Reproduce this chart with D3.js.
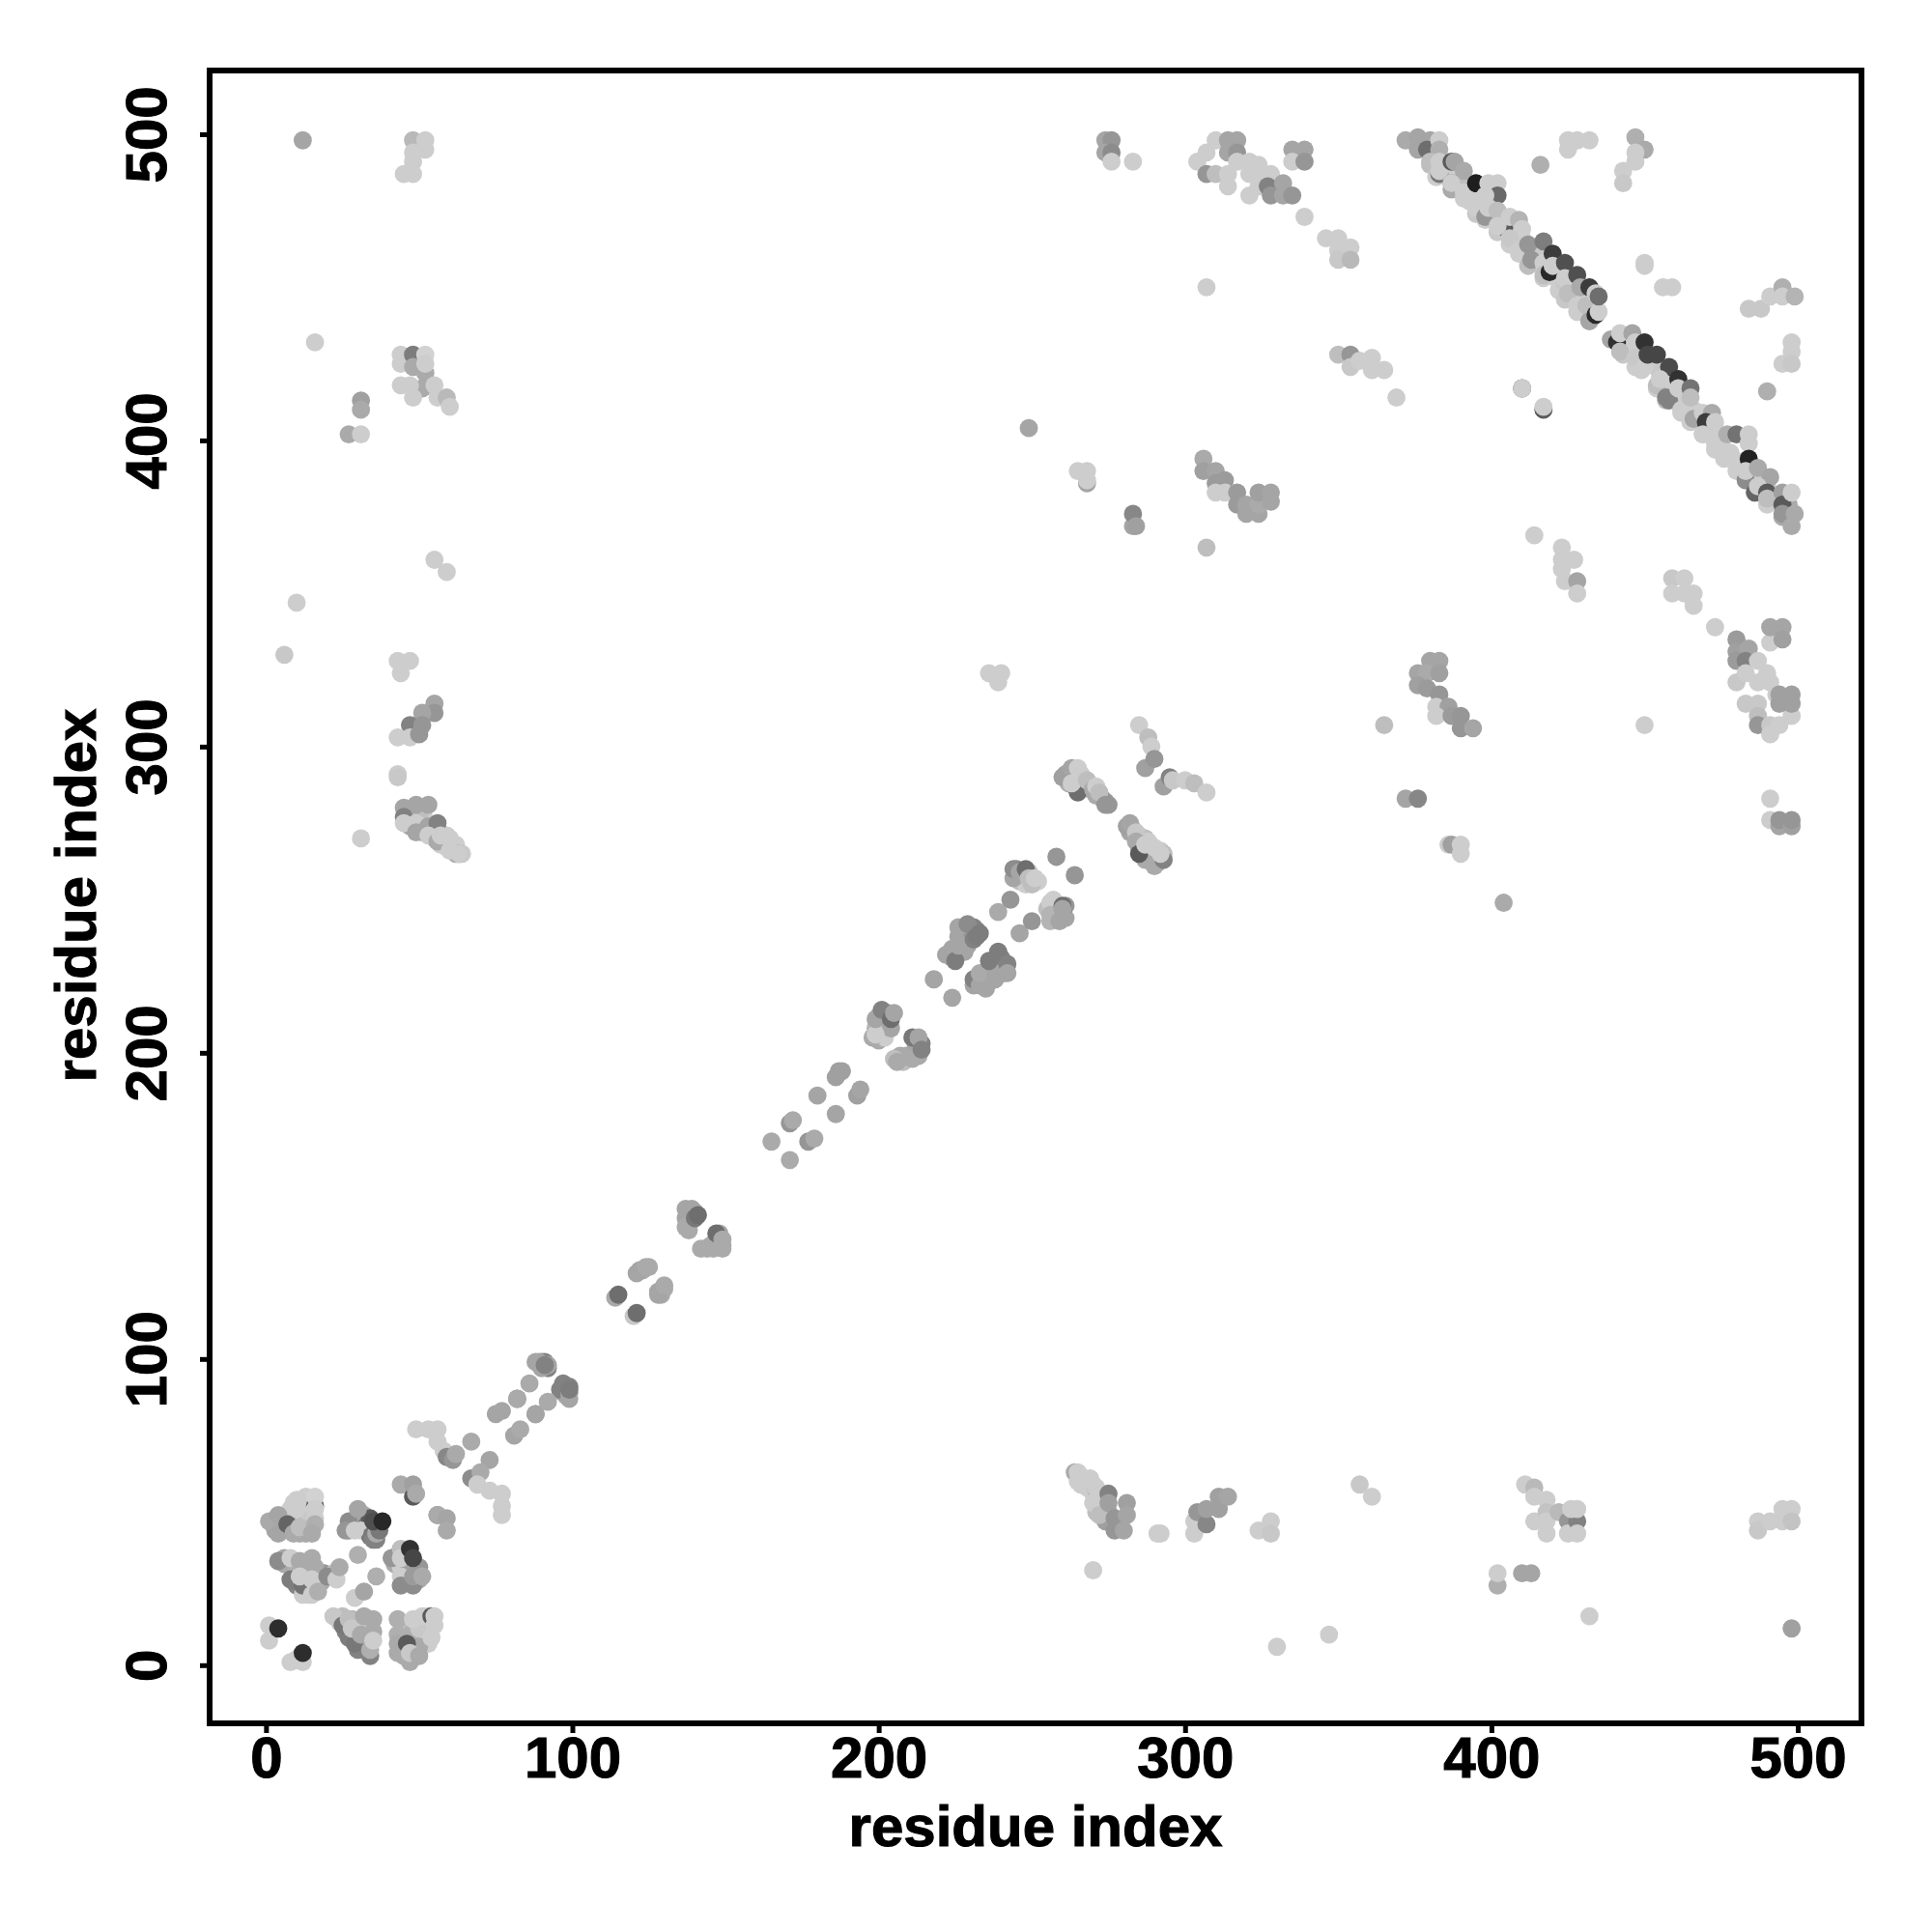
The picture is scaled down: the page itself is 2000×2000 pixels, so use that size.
<!DOCTYPE html>
<html><head><meta charset="utf-8">
<script src="https://cdnjs.cloudflare.com/ajax/libs/d3/7.8.5/d3.min.js"></script>
<style>html,body{margin:0;background:#fff}svg{display:block}text{font-family:"Liberation Sans",Arial,sans-serif;font-weight:700;fill:#000;stroke:#000;stroke-width:1.1px}</style>
</head><body><div id="chart"></div>
<script>
// Each row: [residue i, residue j, grey level]
const xTicks = [0,100,200,300,400,500];
const yTicks = [0,100,200,300,400,500];
const xTitle = "residue index", yTitle = "residue index";

const originFill = [
[45,13,175],[45,5,170],[47,13,190],[47,10,205],[50,9,205],[52,11,205],[52,14,200],[53,7,205],[49,6,175],[45,3,170],[50,15,200],[53,16,205],[48,11,175],[50,6,170],
[26,11,130],[29,13,205],[30,9,170],[32,8,140],[33,13,180],[34,11,170],[33,6,120],[28,15,175],[25,16,190],[31,14,200],[30,5,130],[27,9,125],[24,14,205],
[6,33,170],[10,31,175],[13,31,170],[14,28,200],[13,25,205],[16,26,190],[18,27,170],[6,35,165],[14,23,205],[19,30,150],[22,30,190],[10,26,130],[12,23,205],
[3,46,170],[6,44,170],[6,48,170],[8,51,205],[10,48,190],[12,50,205],[13,46,170],[11,43,170],[14,53,205],[14,49,200],[12,53,205],[13,43,170],[3,44,165],[10,51,205],
[28,45,140],[32,49,170],[33,46,120],[35,44,130],[37,46,150],[34,48,90],[31,44,205],[36,41,130],[34,42,120],[27,44,150],
[42,33,170],[46,33,190],[44,32,205],[46,30,160],[46,37,190],[50,32,150],[50,28,170],[46,27,140],[43,36,175]
];
const diagonalFill = [
[261,291,165],[262,290,190],[263,291,205],[264,289,205],[265,290,190],[266,288,205],[266,291,205],[267,287,170],[268,288,205],[269,286,190],[270,287,190],[271,284,170],[272,285,205],[273,283,170],[274,282,150],[262,288,175],[264,287,150],
[282,272,165],[283,273,190],[284,270,170],[285,271,205],[286,268,165],[287,270,190],[288,265,175],[288,269,205],[289,264,170],[290,266,205],[291,263,190],[291,262,165],[292,266,205],[293,265,190],[287,263,170],[285,267,150],
[224,234,165],[226,238,165],[227,240,165],[228,237,165],[230,240,150],[229,235,165],[223,232,165],[225,233,165],[228,233,165],[232,240,130],[224,231,165],[231,241,130],
[234,224,165],[236,223,165],[235,226,165],[237,228,130],[239,228,165],[241,226,165],[240,231,130],[233,224,165],[238,224,165],[231,222,165],[235,221,165],
[245,258,165],[246,256,190],[247,258,150],[248,255,205],[245,260,140],[249,259,190],[252,256,205],[250,255,190],
[257,247,205],[256,243,180],[258,245,170],[257,250,205],[261,244,165],[261,248,150],[258,248,190],[255,247,190],
[199,208,180],[200,204,170],[200,212,165],[202,210,165],[201,207,190],[203,213,150],[202,205,205],[204,208,165],
[208,197,190],[209,199,170],[212,200,170],[207,199,170],[212,203,165],[214,203,130],[213,199,170],
[137,146,165],[138,147,165],[138,144,170],[139,149,165],[140,148,165],[138,142,170],
[144,136,170],[146,136,170],[147,137,170],[147,139,120],[149,137,170],[148,141,165],
[122,129,165],[123,129,170],[125,130,170],[128,122,165],[130,123,170],[129,121,170],
[88,99,165],[90,99,130],[91,99,130],[92,97,130],[90,97,165],[97,89,165],[99,91,130],[98,88,165],[96,90,130],[99,87,165]
];
const bandFill = [
[47,278,130],[48,276,205],[50,274,205],[51,272,165],[52,276,205],[54,272,205],[55,270,205],[56,273,180],[57,268,205],[58,270,205],[59,267,205],[61,266,205],[62,268,205],[59,271,205],[62,265,170],[64,265,205],[50,277,190],[47,274,165],
[265,61,205],[266,59,205],[267,61,205],[268,58,205],[270,59,205],[270,56,205],[272,56,205],[272,53,205],[273,51,205],[271,50,190],[275,50,165],[274,47,160],
[380,490,190],[382,486,205],[387,482,170],[391,479,205],[393,478,205],[395,474,200],[398,472,205],[402,468,200],[406,464,205],[409,461,205],[412,457,190],[417,453,205],[422,449,205],[424,446,200],[428,442,205],[432,439,170],
[385,488,205],[388,486,205],[392,483,190],[394,480,205],[397,477,205],[400,473,205],[403,471,205],[407,469,200],[410,466,205],[413,463,205],[415,460,200],[418,456,205],[421,453,205],[424,451,200],[427,447,205],[430,446,205],[433,443,190],
[443,428,200],[447,424,205],[449,423,205],[454,417,205],[457,413,190],[462,409,205],[465,406,205],[469,402,205],[473,397,205],[476,394,205],[480,390,205],[483,387,190],[486,383,205],[490,379,205],[495,375,170],
[445,430,205],[448,428,205],[452,425,205],[455,422,200],[458,418,205],[460,415,205],[463,412,205],[466,410,205],[470,405,205],[472,402,205],[475,399,205],[478,396,205],[481,393,205],[485,390,205],[488,387,205],[490,385,205],[493,381,190],[497,379,170]
];
const originBlock = [
[1,13,205],[1,8,205],[8,1,205],[12,1,205],[10,2,205],[4,12,45],[12,4,45],
[22,16,200],[25,13,120],[27,15,190],[29,7,120],[28,12,200],[32,16,170],[31,10,170],[34,3,130],[34,5,175],[35,15,170],[35,11,170],[35,8,205],
[43,15,175],[43,10,175],[43,4,170],[43,7,170],[47,1,170],[46,7,90],[47,4,200],[50,3,170],[50,12,200],[48,15,205],[51,16,205],[54,16,90],[55,16,205],[54,9,205],[55,13,205],
[4,34,140],[8,35,205],[11,34,170],[15,35,170],[16,32,170],[8,28,125],[12,26,115],[11,29,205],[15,28,205],[15,23,205],[17,24,175],[20,29,140],[23,28,205],[24,32,170],
[30,36,175],[36,29,175],[29,22,205],[32,24,165],
[1,47,170],[4,49,165],[4,43,165],[7,46,100],[9,43,170],[11,45,190],[9,53,205],[10,54,205],[13,55,205],[16,52,90],[16,55,210],[16,51,205],[16,48,205],[16,46,175],[15,43,170],
[27,47,140],[30,51,165],[26,44,150],[29,44,205],[35,41,130],[36,43,170],[37,44,120],[35,47,80],[38,47,40],
[41,35,150],[44,38,190],[44,35,205],[47,38,50],[48,35,70],[44,29,205],[44,26,140],[48,26,140],[48,29,155],[51,29,170]
];
const nearDiagonal = [
[44,59,170],[48,55,90],[48,59,160],[49,56,170],[56,49,130],[56,49,170],[59,48,165],[59,44,170],
[49,77,205],[53,77,205],[56,77,205],[56,73,205],[58,70,205],[59,68,135],[61,67,150],[62,69,170],[67,73,170],
[67,61,140],[73,67,165],[70,63,170],[69,59,205],[73,57,205],[77,56,205],[77,52,205],[77,49,205],
[75,82,165],[77,83,165],[82,87,130],[82,87,170],[86,92,170],[89,99,165],[92,98,165],[91,98,130],
[81,75,165],[83,77,170],[88,82,130],[88,82,165],[92,86,170],[99,89,165],[97,92,130],[99,90,125],
[114,120,170],[115,121,110],[120,114,200],[121,115,110],[121,128,165],[124,130,170],[128,121,165],[130,124,170],
[137,149,165],[137,143,170],[140,146,120],[141,147,110],[142,136,170],[145,137,170],[147,141,110],[149,139,170],[149,136,170],
[165,171,170],[171,165,170],[171,177,150],[172,178,170],[177,171,150],[179,172,170],[180,186,165],[186,180,165],
[186,192,160],[187,194,160],[188,194,160],[193,186,160],[194,188,165],
[198,205,170],[199,206,205],[199,211,165],[201,214,130],[204,211,110],[205,213,165],
[205,198,190],[206,197,170],[211,198,170],[211,205,120],[213,205,165],[214,201,130],
[218,224,165],[224,218,165],[222,232,165],[225,230,125],[226,241,165],[226,235,165],[229,242,140],[231,237,130],[232,238,125],[233,239,125],
[231,224,130],[233,222,165],[233,226,170],[238,226,165],[236,230,125],[239,233,125],[242,229,130],[242,226,165],
[239,246,170],[243,250,150],[246,239,165],[250,243,150],
[244,257,165],[244,260,140],[246,259,165],[248,260,110],[249,257,190],[251,257,205],[258,264,150],[264,258,150],
[256,249,205],[256,245,180],[259,243,165],[260,248,110],[260,247,165],
[260,290,160],[263,293,165],[265,285,110],[263,288,205],[265,293,205],[268,289,190],[270,286,170],[271,287,205],[272,285,190],[274,281,150],[275,281,150],
[281,274,160],[282,275,165],[284,272,200],[284,269,170],[285,265,90],[287,268,205],[290,261,170],[290,267,205],[293,263,130],[292,265,205],
[285,307,205],[288,303,190],[289,300,205],[287,293,160],[290,296,150],
[293,287,160],[295,290,130],[296,289,200],[300,289,205],[303,288,190],[307,285,205]
];
const upperLeft = [
[12,498,165],[48,498,185],[52,498,205],[52,495,205],[48,494,205],[48,491,205],[45,487,205],[48,487,205],[16,432,205],
[44,428,205],[44,425,205],[48,428,125],[48,424,170],[52,422,170],[52,428,210],[52,425,205],[44,418,205],[51,417,170],[47,418,205],[48,414,205],[55,418,205],[56,414,205],[59,414,185],[60,411,205],
[31,413,160],[31,410,170],[27,402,170],[31,402,205],
[55,361,205],[59,357,205],[10,347,205],[6,330,200],[43,328,205],[47,328,205],[44,324,205],
[55,314,165],[55,311,150],[51,311,165],[47,307,130],[51,307,150],[43,303,205],[47,303,205],[50,304,150],[43,291,205],[43,290,200],[31,270,205],
[45,280,165],[49,281,165],[53,281,165],[45,277,130],[45,275,205],[49,275,205],[49,272,165],[53,274,165],[56,275,130],[53,271,205],[56,269,170],[57,271,205],[63,265,150],[60,270,205],[60,266,205],[63,265,205]
];
const upperMiddle = [
[274,498,165],[276,498,150],[274,494,165],[276,494,140],[276,491,205],[283,491,205],[249,404,165],
[304,491,205],[307,487,150],[307,494,205],[310,498,205],[314,498,165],[317,498,165],[314,494,165],[317,494,150],[310,487,190],[314,487,205],[314,483,205],
[317,491,205],[321,491,205],[324,490,205],[321,487,205],[321,480,205],[324,487,205],[324,483,205],[328,487,205],[327,483,130],[332,484,165],[328,480,150],[332,480,165],[335,480,150],
[335,495,165],[339,495,165],[335,491,205],[339,491,150],[339,473,205],[346,466,205],[350,466,205],[350,462,205],[350,459,200],[354,463,205],[354,459,185],[307,450,205],
[350,428,190],[354,428,150],[354,424,200],[357,426,205],[361,427,205],[361,423,205],[365,423,205],[369,414,205],
[306,394,170],[306,390,160],[310,390,165],[310,386,155],[313,387,155],[310,383,205],[313,383,205],[317,383,155],[317,379,155],[320,379,165],[320,376,165],[324,376,165],[324,379,170],[324,383,160],[328,383,165],[328,380,165],[307,365,190],
[265,390,205],[268,390,205],[268,386,165],[268,387,205],[283,372,165],[283,376,135],[284,372,160],
[236,324,205],[239,321,205],[240,324,205]
];
const antiDiagonal = [
[372,498,170],[376,499,165],[380,498,165],[376,495,165],[379,495,110],[383,498,205],[383,495,175],[380,491,190],[383,487,120],[383,491,205],[383,488,205],[387,491,90],[388,491,165],[391,488,170],[387,484,140],[387,484,205],[391,481,205],[395,484,30],[399,484,205],[402,484,205],[402,480,105],[398,480,205],[395,476,205],[398,473,150],[399,476,205],[402,475,190],
[405,469,90],[402,470,205],[406,473,205],[409,472,180],[410,469,205],[406,466,200],[409,462,205],[412,464,150],[417,465,125],[413,459,150],[417,458,205],[417,454,190],[420,461,60],[419,455,40],[420,457,205],[424,458,80],[424,453,205],[425,448,190],[428,454,80],[429,450,170],[432,450,60],[428,444,205],[431,444,190],[432,439,165],[434,441,40],[434,448,205],[435,442,205],[435,447,110],
[439,433,165],[441,432,50],[442,435,205],[442,429,190],[446,435,165],[447,432,205],[447,427,200],[450,424,205],[450,432,50],[451,428,70],[454,428,70],[454,418,190],[458,424,75],[455,420,205],[457,414,130],[461,420,50],[458,413,130],[461,417,205],[465,417,115],[462,410,205],[465,414,190],
[466,407,165],[469,409,205],[472,409,170],[470,406,60],[469,402,205],[473,406,205],[473,399,205],[477,402,175],[480,402,115],[476,396,205],[484,402,205],[484,399,205],[480,392,205],[484,394,35],[483,387,140],[483,390,205],[487,391,170],[491,388,165],[486,383,100],[487,385,205],[490,383,90],[490,381,190],[495,383,160],[495,379,90],[498,383,205],[495,376,150],[499,376,170],[498,372,170]
];
const upperRight = [
[416,490,175],[425,495,205],[425,498,205],[428,498,205],[432,498,205],[447,499,175],[450,495,170],[447,494,205],[447,491,205],[443,488,205],[443,484,200],[450,458,205],[450,457,205],[456,450,205],[459,450,205],
[484,443,200],[488,443,200],[491,447,205],[495,450,175],[495,447,205],[499,447,180],[498,432,205],[498,429,205],[495,425,205],[498,425,200],[490,416,175],
[410,417,90],[410,417,205],[417,410,90],[417,411,205],[414,369,205],[423,365,205],[427,361,205],[423,361,205],[423,358,205],[424,354,205],[428,354,165],[428,350,205],
[459,355,200],[463,355,205],[459,350,205],[463,350,205],[466,350,205],[466,346,205],[473,339,205]
];
const rightMiddle = [
[365,307,190],[450,307,205],[380,328,165],[383,328,165],[376,324,165],[379,324,170],[383,324,160],[376,320,160],[379,319,155],[383,317,150],[382,313,205],[386,313,160],[382,310,205],[387,310,155],[390,310,150],[390,306,150],[394,306,165],
[372,283,165],[376,283,135],[386,268,205],[387,268,160],[390,268,205],[390,265,205],[404,249,170],
[480,335,155],[480,331,160],[480,328,155],[484,332,165],[483,328,130],[487,328,205],[480,321,200],[483,324,205],[487,321,205],[490,324,205],[491,321,205],[493,317,205],[483,314,200],[487,314,200],[487,310,190],[487,307,150],[491,307,200],[491,304,205],[494,307,205],[498,310,205],[494,317,160],[494,314,160],[498,317,160],[498,314,160],
[491,334,205],[491,339,165],[495,339,165],[495,335,160],[491,283,205],[491,276,205],[494,274,165],[494,276,150],[498,274,160],[498,276,150]
];
const bottomRow = [
[264,63,170],[265,63,205],[265,60,205],[269,61,205],[271,57,190],[271,58,205],[270,53,205],[272,49,190],[275,56,130],[275,53,160],[281,53,160],[277,48,150],[281,49,165],[277,44,150],[280,44,165],
[291,43,205],[292,43,205],[303,43,205],[303,47,205],[304,50,150],[307,46,135],[307,51,160],[311,51,160],[311,55,160],[314,55,165],
[324,44,205],[328,47,205],[328,43,200],[357,59,200],[361,55,205],[270,31,205],
[411,59,205],[414,58,185],[414,55,205],[418,54,205],[414,47,205],[418,50,195],[418,47,205],[418,43,205],[422,50,185],[425,47,150],[425,43,205],[428,47,130],[428,43,205],[426,51,205],[428,51,205],
[487,47,205],[487,44,200],[491,47,205],[495,47,205],[495,51,205],[498,51,205],[498,47,195],
[402,26,175],[402,30,205],[410,30,165],[413,30,165],[432,16,205],[498,12,160],[330,6,205],[347,10,205]
];
const contacts = [originFill, diagonalFill, bandFill, originBlock, nearDiagonal, upperLeft, upperMiddle, antiDiagonal, upperRight, rightMiddle, bottomRow].flat();

const W = 2000, H = 2000;
const box = {left:217, right:1927, top:73, bottom:1784};
const x = d3.scaleLinear().domain([-18.4,520.8]).range([box.left, box.right]);
const y = d3.scaleLinear().domain([-19,520.8]).range([box.bottom, box.top]);

const svg = d3.select("#chart").append("svg").attr("width",W).attr("height",H).attr("viewBox",`0 0 ${W} ${H}`);
svg.append("rect").attr("width",W).attr("height",H).attr("fill","#fff");

svg.append("g").selectAll("circle").data(contacts).join("circle")
  .attr("cx",d=>x(d[0])).attr("cy",d=>y(d[1])).attr("r",9.4)
  .attr("fill",d=>d3.rgb(d[2],d[2],d[2]).formatHex());

const gx = svg.append("g").attr("transform",`translate(0,${box.bottom})`)
  .call(d3.axisBottom(x).tickValues(xTicks).tickSize(10).tickPadding(11));
const gy = svg.append("g").attr("transform",`translate(${box.left},0)`)
  .call(d3.axisLeft(y).tickValues(yTicks).tickSize(10).tickPadding(0));
[gx,gy].forEach(g=>{
  g.select(".domain").remove();
  g.attr("font-family",null).attr("font-size",null);
  g.selectAll(".tick line").attr("stroke","#000").attr("stroke-width",5);
  g.selectAll(".tick text").style("font-size","60px");
});
gx.selectAll(".tick text").attr("dy",null).attr("y",null).attr("dominant-baseline","alphabetic")
  .attr("transform","translate(0,56)").attr("text-anchor","middle");
gy.selectAll(".tick text").attr("x",null).attr("dy",null).attr("text-anchor","middle")
  .attr("transform","translate(-45,0) rotate(-90)");

svg.append("rect").attr("x",box.left).attr("y",box.top)
  .attr("width",box.right-box.left).attr("height",box.bottom-box.top)
  .attr("fill","none").attr("stroke","#000").attr("stroke-width",6);

svg.append("text").attr("x",1072).attr("y",1911).attr("text-anchor","middle").style("font-size","60px").text(xTitle);
svg.append("text").attr("transform","translate(99,927) rotate(-90)").attr("text-anchor","middle").style("font-size","60px").text(yTitle);
</script></body></html>
